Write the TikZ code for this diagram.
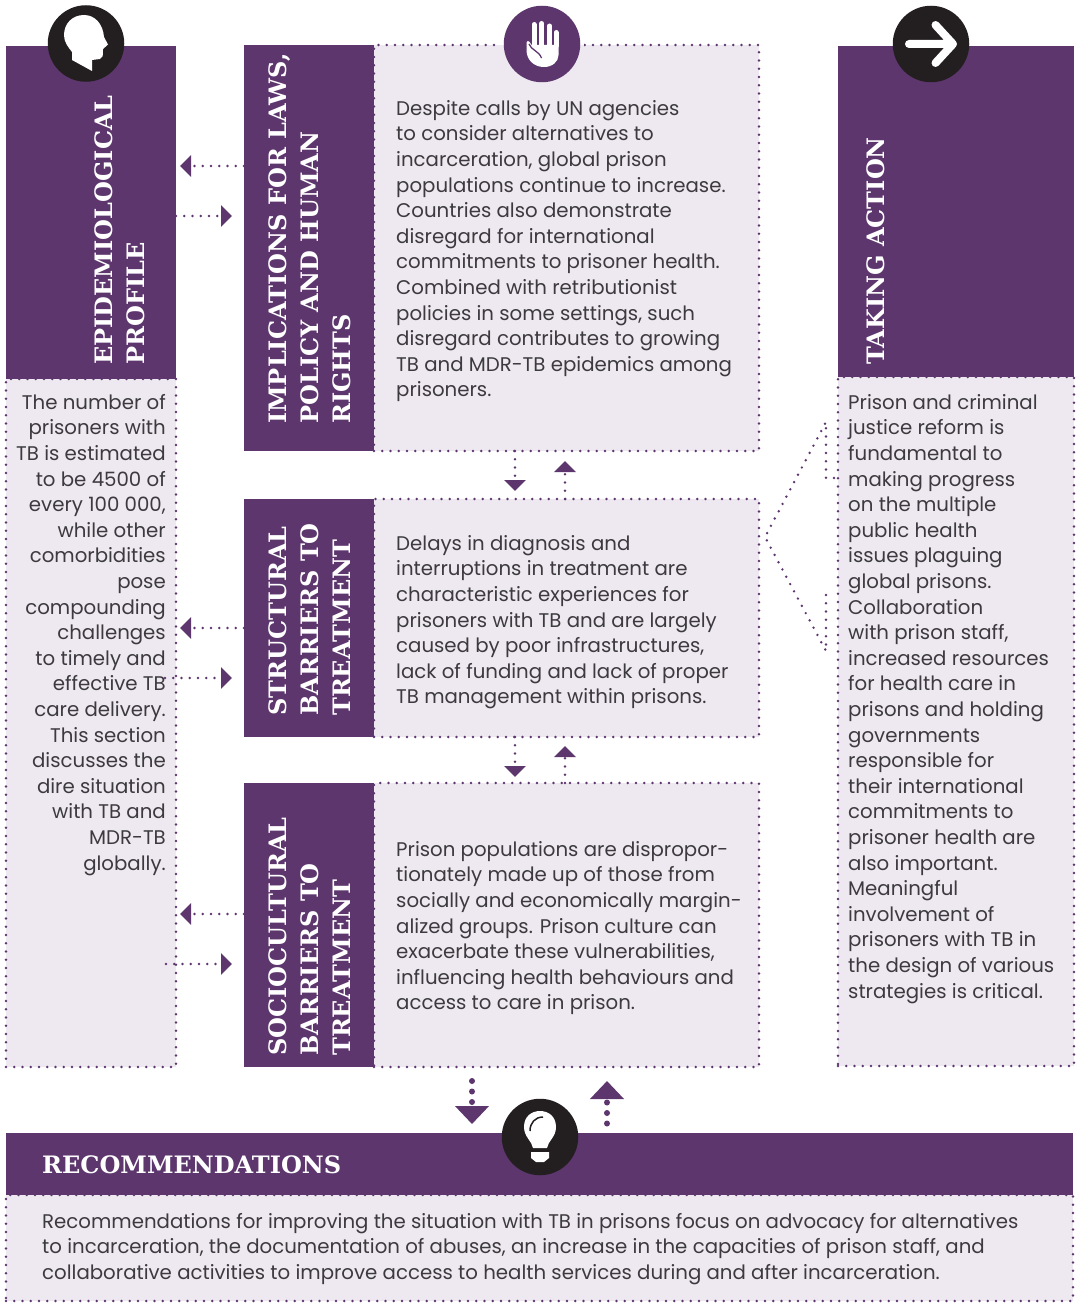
\documentclass[tikz,border=0pt]{standalone}
\usepackage{fontspec}
\setmainfont{Poppins}
\newfontfamily\slabfont{DejaVu Serif}
\usetikzlibrary{arrows.meta}
\definecolor{tbpurple}{HTML}{5D366E}
\definecolor{tblilac}{HTML}{EEE9F0}
\definecolor{tbblack}{HTML}{231F20}
\definecolor{tbtext}{HTML}{3C3A3E}
\tikzset{
  dotline/.style={draw=tbpurple,line width=2.7pt,line cap=round,dash pattern=on 0pt off 8.25pt},
  headbox/.style={fill=tbpurple,inner sep=0pt,outer sep=0pt,anchor=north west},
  textbox/.style={fill=tblilac,dotline,inner sep=0pt,outer sep=0pt,anchor=north west},
  headfont/.style={text=white,font=\slabfont\bfseries\fontsize{24}{32}\selectfont,align=left,inner sep=0pt},
  headtext/.style={headfont,rotate=90,anchor=north west},
  bodytext/.style={text=tbtext,font=\fontsize{19.75}{25.6}\selectfont,align=left,inner sep=0pt,anchor=north west},
  link/.style={dotline,-{Triangle[length=11pt,width=21pt,fill=tbpurple,color=tbpurple]}},
  biglink/.style={draw=tbpurple,line width=6pt,line cap=round,dash pattern=on 0pt off 10.5pt,-{Triangle[length=18pt,width=33pt,fill=tbpurple,color=tbpurple]}},
  badge/.style={circle,minimum size=76.5pt,inner sep=0pt,fill=tbblack}
}
\begin{document}
\begin{tikzpicture}[x=1pt,y=-1pt]
     \useasboundingbox (0,0) rectangle (1076,1306);
     % left column
     \node[headbox,minimum width=170,minimum height=333] (epihead) at (6,46) {};
     \node[textbox,minimum width=170,minimum height=688] (epibox) at (6,379) {};
     % middle column
     \node[headbox,minimum width=130,minimum height=406] (lawhead) at (244,45) {};
     \node[textbox,minimum width=385,minimum height=406] (lawbox) at (374,45) {};
     \node[headbox,minimum width=130,minimum height=238] (structhead) at (244,499) {};
     \node[textbox,minimum width=385,minimum height=238] (structbox) at (374,499) {};
     \node[headbox,minimum width=130,minimum height=284] (sociohead) at (244,783) {};
     \node[textbox,minimum width=385,minimum height=284] (sociobox) at (374,783) {};
     % right column
     \node[headbox,minimum width=236,minimum height=331] (acthead) at (838,46) {};
     \node[textbox,minimum width=236,minimum height=689] (actbox) at (838,377) {};
     % bottom band
     \node[headbox,minimum width=1067,minimum height=62] (rechead) at (6,1133) {};
     \node[textbox,minimum width=1067,minimum height=106] (recbox) at (6,1195) {};

     % badges
     \fill[white] (500,42) rectangle (584,45);
     \fill[tblilac] (500,45) rectangle (584,48);
     \node[badge] (headbadge) at (86,43.5) {};
     \node[badge,fill=tbpurple] (handbadge) at (542,44) {};
     \node[badge] (arrowbadge) at (931,44) {};
     \node[badge] (bulbbadge) at (540,1137) {};

     % head
     \fill[white] (72,60) -- (92,71) -- (92,60) -- (100,59) .. controls (103,58) and (103,56) .. (103,49)
       -- (108,44.5) -- (104,37) .. controls (103,24) and (95,15) .. (84,15)
       .. controls (72,15) and (64,24) .. (64,35) .. controls (64,42) and (68,47) .. (72,52) -- cycle;
     % hand
     \draw[white,line width=5pt,line cap=round] (534,46) -- (534,24.5) (541.8,46) -- (541.8,23.5) (549.5,46) -- (549.5,26) (556,46) -- (556,32.5);
     \fill[white] (531.5,45) -- (558.5,45) -- (558.5,55) .. controls (558.5,62) and (552,67) .. (544,67)
       .. controls (534,67) and (526.5,60) .. (526.5,50) -- (526.5,42.5) .. controls (526.5,40.5) and (529,40.5) .. (529.5,42) -- cycle;
     \draw[tbpurple,line width=1.3pt] (529,44) .. controls (531,50) and (539,51) .. (541.5,58);
     % arrow
     \draw[white,line width=8pt,line cap=round,line join=round] (909,44) -- (952,44) (935.5,25) -- (953,44) -- (935.5,63);
     % bulb
     \fill[white] (533,1148) .. controls (532,1141) and (524,1137) .. (524,1127)
       .. controls (524,1116) and (532,1111) .. (540,1111)
       .. controls (548,1111) and (556,1116) .. (556,1127)
       .. controls (556,1137) and (548,1141) .. (547,1148) -- cycle;
     \fill[white] (531,1152) -- (549,1152) -- (549,1158) -- (544,1162) -- (536,1162) -- (531,1158) -- cycle;
     \draw[tbblack,line width=1.5pt] (530,1131) .. controls (530,1123) and (535,1117) .. (543,1117);

     % connectors
     \coordinate (epiR1) at (176,216);
     \coordinate (lawL1) at (244,166);
     \coordinate (epiA1) at (180,166);
     \coordinate (lawA1) at (232,216);
     \coordinate (epiR2) at (165,678);
     \coordinate (structL) at (244,628);
     \coordinate (epiA2) at (180,628);
     \coordinate (structA) at (232,678);
     \coordinate (epiR3) at (166,964);
     \coordinate (socioL) at (244,914);
     \coordinate (epiA3) at (180,914);
     \coordinate (socioA) at (232,964);
     \draw[link] (lawL1) -- (epiA1);
     \draw[link] (epiR1) -- (lawA1);
     \draw[link] (structL) -- (epiA2);
     \draw[link] (epiR2) -- (structA);
     \draw[link] (socioL) -- (epiA3);
     \draw[link] (epiR3) -- (socioA);
     \coordinate (lawB1) at (515,451);
     \coordinate (lawB2) at (565,461);
     \coordinate (structT1) at (515,491);
     \coordinate (structT2) at (565,499);
     \coordinate (structB1) at (515,737);
     \coordinate (structB2) at (565,746);
     \coordinate (socioT1) at (515,777);
     \coordinate (socioT2) at (565,783);
     \draw[link] (lawB1) -- (structT1);
     \draw[link] (structT2) -- (lawB2);
     \draw[link] (structB1) -- (socioT1);
     \draw[link] (socioT2) -- (structB2);
     \coordinate (recDown) at (472,1124);
     \coordinate (recUp) at (607,1081);
     \coordinate (socioDown) at (472,1081);
     \coordinate (bandUp) at (607,1123.5);
     \draw[biglink] (socioDown) -- (recDown);
     \draw[biglink] (bandUp) -- (recUp);
     % bracket
     \coordinate (apex) at (765,537);
     \coordinate (bracketA) at (826,422);
     \coordinate (bracketB) at (826,478);
     \coordinate (bracketC) at (834,478);
     \coordinate (bracketD) at (834,595);
     \coordinate (bracketE) at (826,595);
     \coordinate (bracketF) at (826,651);
     \draw[dotline] (bracketC) -- (bracketB) -- (bracketA) -- (apex) -- (bracketF) -- (bracketE) -- (bracketD);

     % headings
     \node[headtext] (epititle) at (94.5,365) {EPIDEMIOLOGICAL\\PROFILE};
     \node[headtext] (lawtitle) at (268,424) {IMPLICATIONS FOR LAWS,\\POLICY AND HUMAN\\RIGHTS};
     \node[headtext] (structtitle) at (268,716) {STRUCTURAL\\BARRIERS TO\\TREATMENT};
     \node[headtext] (sociotitle) at (268,1056) {SOCIOCULTURAL\\BARRIERS TO\\TREATMENT};
     \node[headtext] (acttitle) at (866.5,365) {TAKING ACTION};
     \node[headfont,anchor=west] (rectitle) at (42,1165) {RECOMMENDATIONS};

     % body texts
     \node[bodytext,align=right,anchor=north east] (epitext) at (166,394) {The number of\\prisoners with\\TB is estimated\\to be 4500 of\\every 100 000,\\while other\\comorbidities\\pose\\compounding\\challenges\\to timely and\\effective TB\\care delivery.\\This section\\discusses the\\dire situation\\with TB and\\MDR-TB\\globally.};
     \node[bodytext] (lawtext) at (396,100) {Despite calls by UN agencies\\to consider alternatives to\\incarceration, global prison\\populations continue to increase.\\Countries also demonstrate\\disregard for international\\commitments to prisoner health.\\Combined with retributionist\\policies in some settings, such\\disregard contributes to growing\\TB and MDR-TB epidemics among\\prisoners.};
     \node[bodytext] (structtext) at (396,535) {Delays in diagnosis and\\interruptions in treatment are\\characteristic experiences for\\prisoners with TB and are largely\\caused by poor infrastructures,\\lack of funding and lack of proper\\TB management within prisons.};
     \node[bodytext] (sociotext) at (396,841) {Prison populations are dispropor-\\tionately made up of those from\\socially and economically margin-\\alized groups. Prison culture can\\exacerbate these vulnerabilities,\\influencing health behaviours and\\access to care in prison.};
     \node[bodytext] (acttext) at (848,394) {Prison and criminal\\justice reform is\\fundamental to\\making progress\\on the multiple\\public health\\issues plaguing\\global prisons.\\Collaboration\\with prison staff,\\increased resources\\for health care in\\prisons and holding\\governments\\responsible for\\their international\\commitments to\\prisoner health are\\also important.\\Meaningful\\involvement of\\prisoners with TB in\\the design of various\\strategies is critical.};
     \node[bodytext] (rectext) at (42,1213) {Recommendations for improving the situation with TB in prisons focus on advocacy for alternatives\\to incarceration, the documentation of abuses, an increase in the capacities of prison staff, and\\collaborative activities to improve access to health services during and after incarceration.};
\end{tikzpicture}
\end{document}
